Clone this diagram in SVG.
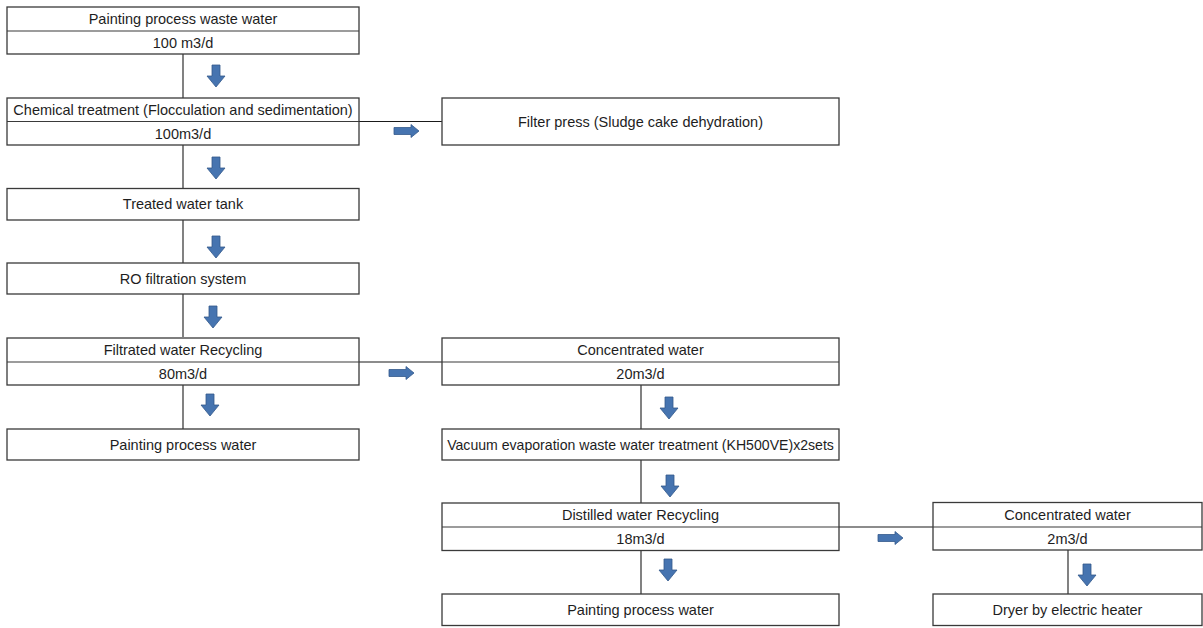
<svg xmlns="http://www.w3.org/2000/svg" width="1203" height="628" viewBox="0 0 1203 628">
<style>
.box{fill:#fff;stroke:#3a3a3a;stroke-width:1.3}
.div{stroke:#3a3a3a;stroke-width:1.1}
.ln{stroke:#1a1a1a;stroke-width:1.1;fill:none}
.t{font-family:"Liberation Sans",Arial,sans-serif;font-size:14.5px;fill:#1e1e1e;text-anchor:middle}
.arr{fill:#4674b0;stroke:#33598c;stroke-width:0.8}
</style>
<defs>
<path id="ad" d="M-4,-11 H4 V0 H9 L0,11 L-9,0 H-4 Z"/>
<path id="ar" d="M-12,-3.5 V3.5 H5 V6.5 L13,0 L5,-6.5 V-3.5 Z"/>
</defs>
<rect width="1203" height="628" fill="#fff"/>
<g id="connectors">
<line class="ln" x1="183" y1="54" x2="183" y2="98"/>
<line class="ln" x1="183" y1="145" x2="183" y2="188"/>
<line class="ln" x1="183" y1="220" x2="183" y2="263"/>
<line class="ln" x1="183" y1="294" x2="183" y2="337"/>
<line class="ln" x1="183" y1="385" x2="183" y2="429"/>
<line class="ln" x1="359" y1="121.5" x2="442" y2="121.5"/>
<line class="ln" x1="359" y1="362" x2="442" y2="362"/>
<line class="ln" x1="641" y1="385" x2="641" y2="429"/>
<line class="ln" x1="641" y1="460" x2="641" y2="503"/>
<line class="ln" x1="641" y1="551" x2="641" y2="594"/>
<line class="ln" x1="839" y1="527" x2="933" y2="527"/>
<line class="ln" x1="1068" y1="550" x2="1068" y2="594"/>
<use href="#ad" class="arr" x="216" y="76"/>
<use href="#ad" class="arr" x="216" y="168"/>
<use href="#ad" class="arr" x="216" y="247"/>
<use href="#ad" class="arr" x="213" y="317"/>
<use href="#ad" class="arr" x="210" y="405"/>
<use href="#ad" class="arr" x="669" y="408"/>
<use href="#ad" class="arr" x="670" y="486"/>
<use href="#ad" class="arr" x="668" y="570"/>
<use href="#ad" class="arr" x="1087" y="575"/>
<use href="#ar" class="arr" x="406" y="131"/>
<use href="#ar" class="arr" x="401" y="373"/>
<use href="#ar" class="arr" x="890" y="538"/>
</g>
<g id="n1">
<rect class="box" x="7" y="7" width="352" height="47"/>
<line class="div" x1="7" y1="31" x2="359" y2="31"/>
<text class="t" x="183" y="24">Painting process waste water</text>
<text class="t" x="183" y="48">100 m3/d</text>
</g>
<g id="n2">
<rect class="box" x="7" y="98" width="352" height="47"/>
<line class="div" x1="7" y1="121.5" x2="359" y2="121.5"/>
<text class="t" x="183" y="115">Chemical treatment (Flocculation and sedimentation)</text>
<text class="t" x="183" y="138.5">100m3/d</text>
</g>
<g id="n3">
<rect class="box" x="442" y="98" width="397" height="47"/>
<text class="t" x="640.5" y="127">Filter press (Sludge cake dehydration)</text>
</g>
<g id="n4">
<rect class="box" x="7" y="188.5" width="352" height="31.5"/>
<text class="t" x="183" y="209">Treated water tank</text>
</g>
<g id="n5">
<rect class="box" x="7" y="263" width="352" height="31"/>
<text class="t" x="183" y="283.5">RO filtration system</text>
</g>
<g id="n6">
<rect class="box" x="7" y="338" width="352" height="47"/>
<line class="div" x1="7" y1="362" x2="359" y2="362"/>
<text class="t" x="183" y="355">Filtrated water Recycling</text>
<text class="t" x="183" y="378.5">80m3/d</text>
</g>
<g id="n7">
<rect class="box" x="7" y="429" width="352" height="31"/>
<text class="t" x="183" y="449.5">Painting process water</text>
</g>
<g id="n8">
<rect class="box" x="442" y="338" width="397" height="47"/>
<line class="div" x1="442" y1="362" x2="839" y2="362"/>
<text class="t" x="640.5" y="355">Concentrated water</text>
<text class="t" x="640.5" y="378.5">20m3/d</text>
</g>
<g id="n9">
<rect class="box" x="442" y="429" width="397" height="31"/>
<text class="t" x="640.5" y="449.5" style="font-size:14.1px">Vacuum evaporation waste water treatment (KH500VE)x2sets</text>
</g>
<g id="n10">
<rect class="box" x="442" y="503" width="397" height="47.5"/>
<line class="div" x1="442" y1="527" x2="839" y2="527"/>
<text class="t" x="640.5" y="520">Distilled water Recycling</text>
<text class="t" x="640.5" y="543.5">18m3/d</text>
</g>
<g id="n11">
<rect class="box" x="442" y="594" width="397" height="31.5"/>
<text class="t" x="640.5" y="614.5">Painting process water</text>
</g>
<g id="n12">
<rect class="box" x="933" y="502.5" width="269" height="47.5"/>
<line class="div" x1="933" y1="527" x2="1202" y2="527"/>
<text class="t" x="1067.5" y="520">Concentrated water</text>
<text class="t" x="1067.5" y="543.5">2m3/d</text>
</g>
<g id="n13">
<rect class="box" x="933" y="594" width="269" height="31.5"/>
<text class="t" x="1067.5" y="614.5">Dryer by electric heater</text>
</g>
</svg>
